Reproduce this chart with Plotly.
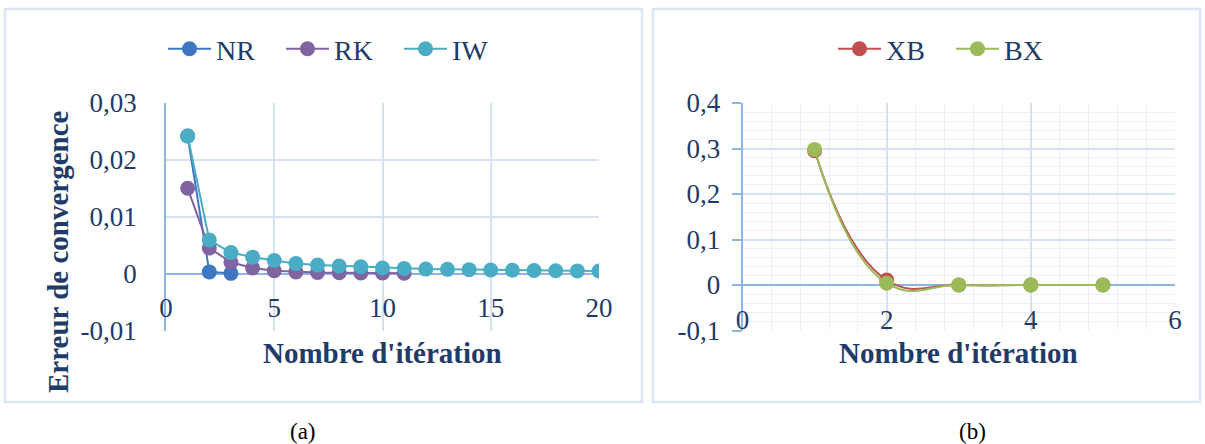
import plotly.graph_objects as go

W, H = 1205, 444

# ---- (a) convergence error for NR / RK / IW ----
iter_nr = [1, 2, 3]
err_nr = [0.0242, 0.0003, 0.00005]

iter_rk = list(range(1, 12))
err_rk = [0.015, 0.0045, 0.002, 0.001, 0.0005, 0.0003, 0.0002, 0.00015, 0.0001, 0.0001, 0.00008]

iter_iw = list(range(1, 21))
err_iw = [0.0242, 0.0059, 0.0037, 0.0029, 0.0023, 0.0018, 0.0015, 0.00135, 0.0012, 0.001,
          0.0009, 0.0008, 0.00075, 0.0007, 0.00065, 0.0006, 0.00055, 0.0005, 0.00048, 0.00045]

# ---- (b) convergence error for XB / BX ----
iter_b = [1, 2, 3, 4, 5]
err_xb = [0.295, 0.011, 0.0, 0.0, 0.0]
err_bx = [0.298, 0.004, 0.0, 0.0, 0.0]

ytick_a_vals = [-0.01, 0, 0.01, 0.02, 0.03]
ytick_a_text = ["-0,01", "0", "0,01", "0,02", "0,03"]
xtick_a_vals = [0, 5, 10, 15, 20]
ytick_b_vals = [-0.1, 0, 0.1, 0.2, 0.3, 0.4]
ytick_b_text = ["-0,1", "0", "0,1", "0,2", "0,3", "0,4"]
xtick_b_vals = [0, 2, 4, 6]

range_a_x, range_a_y = [0, 20], [-0.01, 0.03]
range_b_x, range_b_y = [0, 6], [-0.1, 0.4]

TEXT = "#1F3B68"
GRID = "#D6E2F3"
MINOR = "#ECF1F9"
AXIS = "#8DB4E2"
FONT = "Liberation Serif"

def px(x):
    return x / W

def py(y):
    return 1 - y / H

dom_a = [px(166), px(599)]
dom_b = [px(742.5), px(1175)]
dom_y = [py(330.5), py(103)]

def zero_pos(rng):
    return dom_y[0] + (0 - rng[0]) / (rng[1] - rng[0]) * (dom_y[1] - dom_y[0])

fig = go.Figure()

def add(x, y, name, color, xa, ya, legend, shape="linear"):
    fig.add_trace(go.Scatter(
        x=x, y=y, name=name, mode="lines+markers",
        line=dict(color=color, width=2, shape=shape, smoothing=1.3),
        marker=dict(color=color, size=15),
        xaxis=xa, yaxis=ya, legend=legend,
    ))

add(iter_nr, err_nr, "NR", "#3E77C1", "x", "y", "legend")
add(iter_rk, err_rk, "RK", "#8064A2", "x", "y", "legend")
add(iter_iw, err_iw, "IW", "#4BACC6", "x", "y", "legend")
add(iter_b, err_xb, "XB", "#C0504D", "x2", "y2", "legend2", "spline")
add(iter_b, err_bx, "BX", "#9BBB59", "x2", "y2", "legend2", "spline")

tickfont = dict(family=FONT, size=27, color=TEXT)
legend_common = dict(orientation="h", xanchor="left", yanchor="middle",
                     font=dict(family=FONT, size=28, color=TEXT), bgcolor="rgba(0,0,0,0)",
                     itemwidth=43, entrywidth=60, entrywidthmode="pixels")

fig.update_layout(
    width=W, height=H,
    margin=dict(l=0, r=0, t=0, b=0, pad=0, autoexpand=False),
    paper_bgcolor="white", plot_bgcolor="white",
    showlegend=True,
    xaxis=dict(domain=dom_a, range=range_a_x, anchor="free", position=zero_pos(range_a_y),
               tickvals=xtick_a_vals, showgrid=True, gridcolor=GRID, gridwidth=1.5,
               showline=False, zeroline=False, ticks="", tickfont=tickfont,
               ticklabelstandoff=15, automargin=False),
    yaxis=dict(domain=dom_y, range=range_a_y, anchor="x",
               tickvals=ytick_a_vals, ticktext=ytick_a_text,
               showgrid=True, gridcolor=GRID, gridwidth=1.5,
               zeroline=True, zerolinecolor=AXIS, zerolinewidth=1.5,
               showline=True, linecolor=AXIS, linewidth=1.5, ticks="",
               tickfont=tickfont, ticklabelstandoff=22, automargin=False),
    xaxis2=dict(domain=dom_b, range=range_b_x, anchor="free", position=zero_pos(range_b_y),
                tickvals=xtick_b_vals, showgrid=True, gridcolor=GRID, gridwidth=1.5,
                minor=dict(dtick=0.4, showgrid=True, gridcolor=MINOR, gridwidth=1),
                showline=False, zeroline=False, ticks="", tickfont=tickfont,
                ticklabelstandoff=16, automargin=False),
    yaxis2=dict(domain=dom_y, range=range_b_y, anchor="x2",
                tickvals=ytick_b_vals, ticktext=ytick_b_text,
                showgrid=True, gridcolor=GRID, gridwidth=1.5,
                minor=dict(dtick=0.02, showgrid=True, gridcolor=MINOR, gridwidth=1),
                zeroline=True, zerolinecolor=AXIS, zerolinewidth=1.5,
                showline=True, linecolor=AXIS, linewidth=1.5,
                ticks="outside", ticklen=9, tickcolor=AXIS, tickwidth=1.5,
                tickfont=tickfont, ticklabelstandoff=6, automargin=False),
    legend=dict(x=px(163), y=py(49), **legend_common),
    legend2=dict(x=px(833), y=py(49), **legend_common),
)

title_font = dict(family=FONT, size=29, color=TEXT)
fig.add_annotation(text="<b>Nombre d'itération</b>", x=px(382.5), y=py(353), xref="paper", yref="paper",
                   showarrow=False, font=title_font, xanchor="center", yanchor="middle")
fig.add_annotation(text="<b>Nombre d'itération</b>", x=px(958.5), y=py(353), xref="paper", yref="paper",
                   showarrow=False, font=title_font, xanchor="center", yanchor="middle")
fig.add_annotation(text="<b>Erreur de convergence</b>", x=px(58), y=py(252), xref="paper", yref="paper",
                   showarrow=False, font=title_font, textangle=-90, xanchor="center", yanchor="middle")
fig.add_annotation(text="(a)", x=px(303), y=py(431), xref="paper", yref="paper", xanchor="center",
                   yanchor="middle", showarrow=False, font=dict(family=FONT, size=23, color="black"))
fig.add_annotation(text="(b)", x=px(972), y=py(431), xref="paper", yref="paper", xanchor="center",
                   yanchor="middle", showarrow=False, font=dict(family=FONT, size=23, color="black"))

# panel frames
for x0, x1 in [(5, 642), (653, 1200)]:
    fig.add_shape(type="rect", xref="paper", yref="paper",
                  x0=px(x0), x1=px(x1), y0=py(402), y1=py(9),
                  line=dict(color="#DCE6F4", width=2.5), layer="below")

fig.write_html("out.html")
